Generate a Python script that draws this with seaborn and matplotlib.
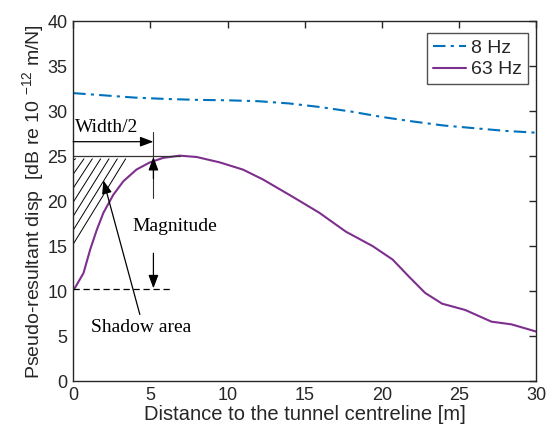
import numpy as np
import pandas as pd
import matplotlib
matplotlib.use("Agg")
import matplotlib.pyplot as plt
import seaborn as sns

# Pseudo-resultant displacement vs distance to tunnel centreline
dist_8hz = [0, 2, 4, 6, 8, 10, 12, 14, 16, 18, 20, 22, 24, 26, 28, 30]
disp_8hz = [32.0, 31.75, 31.5, 31.35, 31.25, 31.2, 31.1, 30.85, 30.45, 29.95,
            29.35, 28.85, 28.4, 28.1, 27.8, 27.6]

dist_63hz = [0, 0.13, 0.67, 1.1, 1.53, 1.96, 2.6, 3.25, 4.1, 4.97, 5.83, 6.9,
             8.0, 9.5, 11.0, 12.3, 14.2, 15.95, 17.67, 19.4, 20.7, 21.76, 22.8,
             23.9, 25.4, 27.1, 28.4, 30]
disp_63hz = [10.1, 10.4, 12.0, 14.6, 16.8, 18.7, 20.7, 22.2, 23.5, 24.3, 24.8,
             25.05, 24.9, 24.3, 23.5, 22.4, 20.5, 18.7, 16.6, 15.0, 13.5, 11.6,
             9.8, 8.6, 7.9, 6.6, 6.3, 5.5]

series_labels = ["8 Hz", "63 Hz"]
x_ticks = [0, 5, 10, 15, 20, 25, 30]
y_ticks = [0, 5, 10, 15, 20, 25, 30, 35, 40]

# Annotation geometry (data units)
peak_level = 25.0
base_level = 10.2
half_width = 5.2
shadow_depth = 15.2
shadow_top_right = 3.4

sns.set_style("white")
plt.rcParams["font.family"] = ["Liberation Sans", "DejaVu Sans"]
plt.rcParams["mathtext.fontset"] = "custom"
plt.rcParams["mathtext.rm"] = "Liberation Sans"
plt.rcParams["mathtext.it"] = "Liberation Sans"

df = pd.concat([
    pd.DataFrame({"x": dist_8hz, "y": disp_8hz, "s": series_labels[0]}),
    pd.DataFrame({"x": dist_63hz, "y": disp_63hz, "s": series_labels[1]}),
])

fig = plt.figure(figsize=(5.46, 4.40), dpi=100)
ax = fig.add_axes([0.134, 0.134, 0.848, 0.818])

sns.lineplot(data=df[df.s == series_labels[0]], x="x", y="y", ax=ax,
             color="#0072BD", lw=1.5, label=series_labels[0], sort=False)
sns.lineplot(data=df[df.s == series_labels[1]], x="x", y="y", ax=ax,
             color="#7E2F8E", lw=1.5, label=series_labels[1], sort=False)
ax.lines[0].set_dashes([6, 2.5, 1.5, 2.5])
for ln in ax.lines:
    ln.set_solid_joinstyle("round")
    ln.set_dash_joinstyle("round")

ax.set_xlim(0, 30)
ax.set_ylim(0, 40)
ax.set_xticks(x_ticks)
ax.set_yticks(y_ticks)
ax.tick_params(direction="in", length=5, width=1, top=True, right=True,
               labelsize=13, colors="#262626", pad=4)
for sp in ax.spines.values():
    sp.set_color("#262626")
    sp.set_linewidth(1.0)

ax.set_xlabel("Distance to the tunnel centreline [m]", fontsize=14.5,
              color="#262626", labelpad=1)
ax.set_ylabel(r"Pseudo-resultant disp  [dB re 10 $^{-12}$ m/N]", fontsize=14,
              color="#262626", labelpad=1)

leg = ax.legend(loc="upper right", fontsize=14, frameon=True, fancybox=False,
                edgecolor="#262626", handlelength=1.7, handletextpad=0.3,
                borderpad=0.3, labelspacing=0.2, bbox_to_anchor=(1.004, 0.993))
leg.get_frame().set_linewidth(1.0)

# Annotations
serif = dict(family=["Liberation Serif", "DejaVu Serif"], fontsize=14, color="black")
ax.plot([0, 6.9], [peak_level, peak_level], color="#333333", lw=0.9)
ax.plot([0, 6.4], [base_level, base_level], color="black", lw=0.9, dashes=[5, 3])
ax.plot([half_width, half_width], [20.3, 27.7], color="#333333", lw=0.8)

arrow_style = dict(arrowstyle="-|>,head_length=0.8,head_width=0.3",
                   color="black", lw=0.9, shrinkA=0, shrinkB=0)
ax.annotate("", xy=(half_width, 26.6), xytext=(0, 26.6), arrowprops=arrow_style)
ax.annotate("", xy=(half_width, 24.9), xytext=(half_width, 22.5), arrowprops=arrow_style)
ax.annotate("", xy=(half_width, 10.3), xytext=(half_width, 14.2), arrowprops=arrow_style)
ax.annotate("", xy=(1.96, 22.3), xytext=(4.32, 7.4), arrowprops=arrow_style)

# Hatched shadow region between the axis and the peak level
slope = (peak_level - shadow_depth) / shadow_top_right
for xt in np.arange(shadow_top_right, 0.1, -0.54):
    y_low = max(peak_level - slope * xt, 0)
    x_low = xt - (peak_level - y_low) / slope
    ax.plot([x_low, xt], [y_low, peak_level - 0.3], color="black", lw=0.7)

ax.text(2.2, 28.2, "Width/2", ha="center", va="center", **serif)
ax.text(6.6, 17.2, "Magnitude", ha="center", va="center", **serif)
ax.text(4.4, 5.9, "Shadow area", ha="center", va="center", **serif)

fig.savefig("out.png", dpi=100)
